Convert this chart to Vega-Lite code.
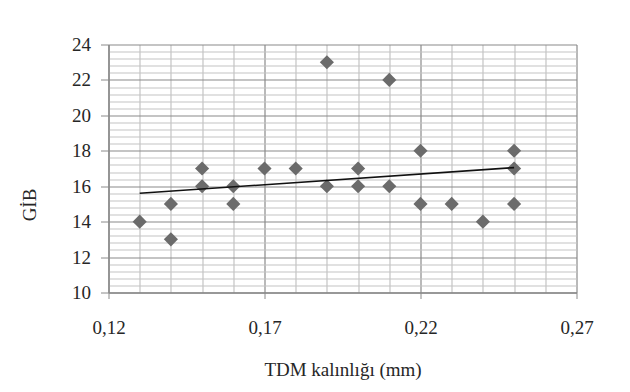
{
  "$schema": "https://vega.github.io/schema/vega-lite/v6.json",
  "width": 468,
  "height": 248,
  "autosize": {"type": "none"},
  "padding": {"left": 108.5, "top": 44.5, "right": 53.5, "bottom": 99.5},
  "background": "white",
  "datasets": {
    "points": [
      {"tdm": 0.13, "gib": 14}, {"tdm": 0.14, "gib": 15}, {"tdm": 0.14, "gib": 13},
      {"tdm": 0.15, "gib": 17}, {"tdm": 0.15, "gib": 16}, {"tdm": 0.16, "gib": 16},
      {"tdm": 0.16, "gib": 15}, {"tdm": 0.17, "gib": 17}, {"tdm": 0.18, "gib": 17},
      {"tdm": 0.19, "gib": 23}, {"tdm": 0.19, "gib": 16}, {"tdm": 0.20, "gib": 17},
      {"tdm": 0.20, "gib": 16}, {"tdm": 0.21, "gib": 22}, {"tdm": 0.21, "gib": 16},
      {"tdm": 0.22, "gib": 18}, {"tdm": 0.22, "gib": 15}, {"tdm": 0.23, "gib": 15},
      {"tdm": 0.24, "gib": 14}, {"tdm": 0.25, "gib": 18}, {"tdm": 0.25, "gib": 17},
      {"tdm": 0.25, "gib": 15}
    ],
    "trend": [
      {"tdm": 0.13, "gib": 15.6},
      {"tdm": 0.25, "gib": 17.05}
    ]
  },
  "layer": [
    {
      "data": {"name": "points"},
      "mark": {"type": "point", "shape": "diamond", "filled": true, "size": 200, "color": "#6b6b6b", "opacity": 1},
      "encoding": {
        "x": {
          "field": "tdm", "type": "quantitative",
          "scale": {"domain": [0.12, 0.27], "nice": false, "zero": false},
          "axis": {
            "title": "TDM kalınlığı (mm)",
            "values": [0.12, 0.13, 0.14, 0.15, 0.16, 0.17, 0.18, 0.19, 0.2, 0.21, 0.22, 0.23, 0.24, 0.25, 0.26, 0.27],
            "tickCount": 500,
            "labelExpr": "round(datum.value*100) % 5 == 2 ? replace(format(datum.value, '.2f'), '.', ',') : ''",
            "labelOverlap": false,
            "labelBound": false,
            "labelFlush": false,
            "labelPadding": 20,
            "grid": true,
            "gridColor": {"condition": {"test": "round(datum.value*100) % 5 == 2", "value": "#8a8a8a"}, "value": "#c4c4c4"},
            "gridWidth": 1.2,
            "ticks": true,
            "tickSize": 6,
            "tickColor": {"condition": {"test": "round(datum.value*100) % 5 == 2", "value": "#8a8a8a"}, "value": "transparent"},
            "domainColor": "#8a8a8a",
            "domainWidth": 1.5,
            "titleY": 83,
            "titleBaseline": "alphabetic",
            "titleFontSize": 19,
            "titlePadding": 0
          }
        },
        "y": {
          "field": "gib", "type": "quantitative",
          "scale": {"domain": [10, 24], "nice": false, "zero": false},
          "axis": {
            "title": "GİB",
            "values": [10, 10.4, 10.8, 11.2, 11.6, 12, 12.4, 12.8, 13.2, 13.6, 14, 14.4, 14.8, 15.2, 15.6, 16, 16.4, 16.8, 17.2, 17.6, 18, 18.4, 18.8, 19.2, 19.6, 20, 20.4, 20.8, 21.2, 21.6, 22, 22.4, 22.8, 23.2, 23.6, 24],
            "tickCount": 500,
            "labelExpr": "abs(datum.value/2 - round(datum.value/2)) < 0.01 ? format(datum.value, 'd') : ''",
            "labelOverlap": false,
            "labelBound": false,
            "labelFlush": false,
            "labelPadding": 10,
            "grid": true,
            "gridColor": {"condition": {"test": "abs(datum.value/2 - round(datum.value/2)) < 0.01", "value": "#8a8a8a"}, "value": "#c4c4c4"},
            "gridWidth": 1.2,
            "ticks": true,
            "tickSize": 8,
            "tickColor": {"condition": {"test": "abs(datum.value/2 - round(datum.value/2)) < 0.01", "value": "#8a8a8a"}, "value": "transparent"},
            "domainColor": "#8a8a8a",
            "domainWidth": 1.5,
            "titleX": -73.5,
            "titleY": 160,
            "titleAngle": -90,
            "titleAlign": "center",
            "titleBaseline": "alphabetic",
            "titleFontSize": 19
          }
        }
      }
    },
    {
      "data": {"name": "trend"},
      "mark": {"type": "line", "color": "#111111", "strokeWidth": 1.6},
      "encoding": {
        "x": {"field": "tdm", "type": "quantitative"},
        "y": {"field": "gib", "type": "quantitative"}
      }
    }
  ],
  "config": {
    "view": {"stroke": null},
    "axis": {
      "labelFont": "Liberation Serif",
      "labelFontSize": 19,
      "labelColor": "#262626",
      "titleFont": "Liberation Serif",
      "titleFontWeight": "normal",
      "titleColor": "#262626"
    }
  }
}
